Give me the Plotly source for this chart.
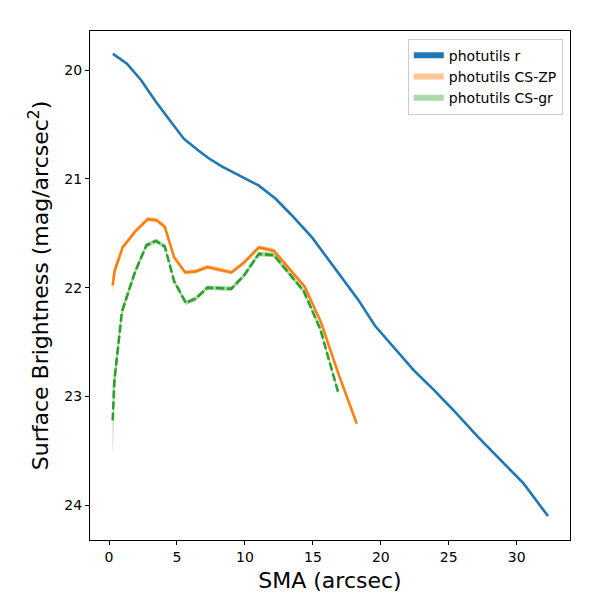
import plotly.graph_objects as go

# photutils r profile
sma_r = [0.29, 1.32, 2.35, 3.45, 4.47, 5.5, 6.6, 7.33, 8.36, 9.3, 11.0, 12.24, 13.34,
         14.95, 16.86, 18.33, 19.57, 21.04, 22.43, 23.9, 25.44, 27.13, 28.9, 30.5, 32.3]
sb_r = [19.85, 19.94, 20.09, 20.29, 20.46, 20.63, 20.74, 20.81, 20.89, 20.95, 21.06, 21.18, 21.32,
        21.54, 21.86, 22.11, 22.35, 22.56, 22.76, 22.94, 23.14, 23.37, 23.6, 23.8, 24.1]
err_r = [0.01] * len(sma_r)

# photutils CS-ZP profile
sma_zp = [0.27, 0.4, 1.0, 1.95, 2.85, 3.5, 4.1, 4.79, 5.6, 6.38, 7.24, 9.0, 9.92,
          11.02, 12.12, 14.4, 15.6, 16.9, 18.23]
sb_zp = [21.98, 21.85, 21.63, 21.48, 21.37, 21.38, 21.44, 21.72, 21.86, 21.85, 21.81, 21.86, 21.77,
         21.63, 21.66, 21.99, 22.32, 22.8, 23.25]
err_zp = [0.09, 0.05, 0.02, 0.02, 0.02, 0.02, 0.02, 0.02, 0.02, 0.02, 0.02, 0.02, 0.02,
          0.02, 0.02, 0.02, 0.02, 0.02, 0.02]

# photutils CS-gr profile
sma_gr = [0.27, 0.4, 0.95, 1.9, 2.75, 3.45, 4.1, 4.79, 5.65, 6.38, 7.24, 9.0, 9.92,
          11.02, 12.12, 14.32, 15.54, 16.88]
sb_gr = [23.22, 22.85, 22.22, 21.86, 21.61, 21.57, 21.62, 21.94, 22.14, 22.1, 22.0, 22.01, 21.89,
         21.69, 21.7, 22.03, 22.38, 22.97]
err_gr = [0.34, 0.1, 0.04, 0.03, 0.02, 0.02, 0.02, 0.02, 0.02, 0.02, 0.02, 0.02, 0.02,
          0.02, 0.02, 0.02, 0.02, 0.02]


def band(x, y, e, color, name):
    up = [a - b for a, b in zip(y, e)]
    lo = [a + b for a, b in zip(y, e)]
    return go.Scatter(x=x + x[::-1], y=up + lo[::-1], fill="toself", fillcolor=color,
                      line=dict(width=0), mode="lines", name=name, showlegend=False,
                      hoverinfo="skip")


fig = go.Figure()

fig.add_trace(band(sma_r, sb_r, err_r, "rgba(31,119,180,0.4)", "photutils r"))
fig.add_trace(go.Scatter(x=sma_r, y=sb_r, mode="lines", line=dict(color="#1f77b4", width=2.6),
                         showlegend=False))
fig.add_trace(band(sma_zp, sb_zp, err_zp, "rgba(255,127,14,0.4)", "photutils CS-ZP"))
fig.add_trace(go.Scatter(x=sma_zp, y=sb_zp, mode="lines", line=dict(color="#ff7f0e", width=2.6),
                         showlegend=False))
fig.add_trace(band(sma_gr, sb_gr, err_gr, "rgba(44,160,44,0.45)", "photutils CS-gr"))
fig.add_trace(go.Scatter(x=sma_gr, y=sb_gr, mode="lines",
                         line=dict(color="#2ca02c", width=2.6, dash="8px,3px"),
                         showlegend=False))

# legend patches
for name, col in [("photutils r", "#1f77b4"),
                  ("photutils CS-ZP", "rgba(255,127,14,0.45)"),
                  ("photutils CS-gr", "rgba(44,160,44,0.4)")]:
    fig.add_trace(go.Scatter(x=[None, None], y=[None, None], mode="none", fill="toself",
                             fillcolor=col, name=name))

axis = dict(showline=True, linecolor="black", linewidth=1, mirror=True, showgrid=False,
            zeroline=False, ticks="outside", ticklen=4, tickcolor="black", automargin=False,
            tickfont=dict(size=14, color="black"))

fig.update_layout(
    width=600, height=600,
    margin=dict(l=82, r=38, t=23, b=68),
    plot_bgcolor="white", paper_bgcolor="white",
    font=dict(family="DejaVu Sans", color="black"),
    xaxis=dict(axis, range=[-1.4, 33.92], tickvals=[0, 5, 10, 15, 20, 25, 30],
               title=dict(text="SMA (arcsec)", font=dict(size=22), standoff=8)),
    yaxis=dict(axis, range=[24.32, 19.64], tickvals=[20, 21, 22, 23, 24],
               title=dict(text="Surface Brightness (mag/arcsec<sup>2</sup>)", font=dict(size=22),
                          standoff=9)),
    legend=dict(x=0.985, y=0.985, xanchor="right", yanchor="top", bordercolor="#cccccc",
                borderwidth=1, bgcolor="white", font=dict(size=14)),
)

fig.write_html("out.html")
